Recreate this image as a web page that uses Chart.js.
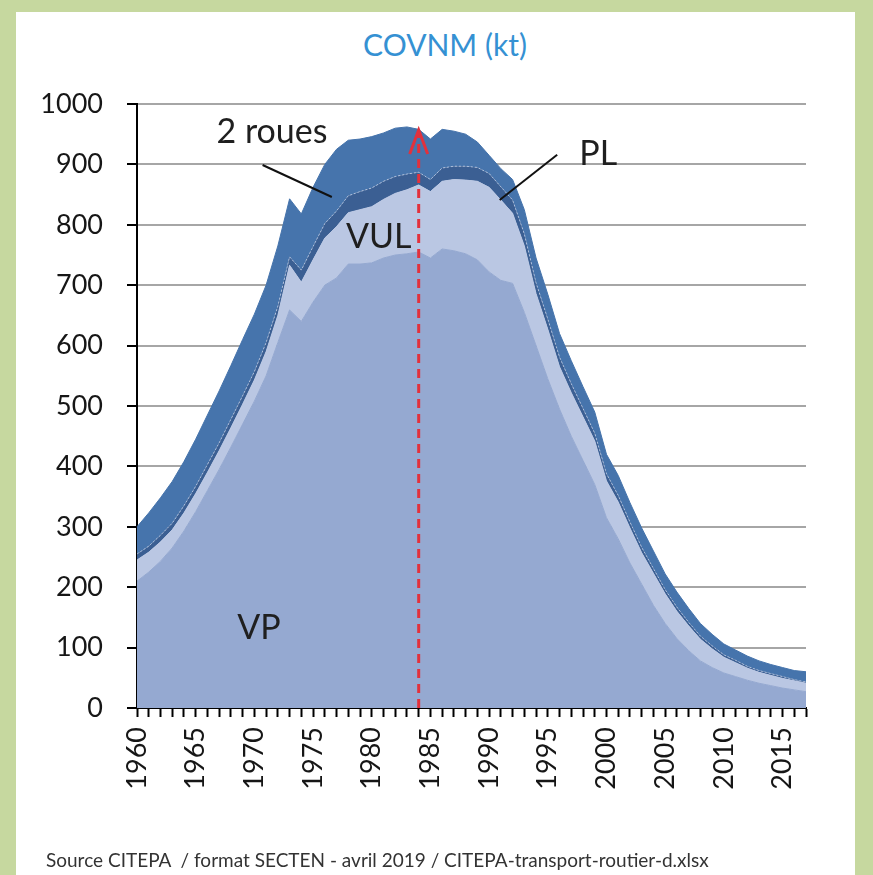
<!DOCTYPE html>
<html lang="fr">
<head>
<meta charset="UTF-8">
<title>COVNM (kt)</title>
<script src="https://cdn.jsdelivr.net/npm/chart.js"></script>
<style>
  html, body { margin: 0; padding: 0; }
  body { width: 873px; height: 875px; background: #c6d89f; position: relative; overflow: hidden; }
  #panel { position: absolute; left: 16px; top: 12px; width: 839px; height: 863px; background: #fff; }
  #chart { position: absolute; left: 0; top: 0; }
  #title { position: absolute; left: 345px; width: 200px; top: 26px; text-align: center; font-family: Lato, sans-serif; font-size: 30px; color: #3591d3; }
  #source { position: absolute; left: 46px; top: 848px; font-family: Lato, sans-serif; font-size: 19px; color: #333; white-space: nowrap; }
</style>
</head>
<body>
<div id="panel"></div>
<div id="title">COVNM (kt)</div>
<canvas id="chart" width="873" height="875"></canvas>
<div id="source">Source CITEPA&nbsp; / format SECTEN - avril 2019 / CITEPA-transport-routier-d.xlsx</div>

<script>
// years on the x axis
const years = [1960, 1961, 1962, 1963, 1964, 1965, 1966, 1967, 1968, 1969,
               1970, 1971, 1972, 1973, 1974, 1975, 1976, 1977, 1978, 1979,
               1980, 1981, 1982, 1983, 1984, 1985, 1986, 1987, 1988, 1989,
               1990, 1991, 1992, 1993, 1994, 1995, 1996, 1997, 1998, 1999,
               2000, 2001, 2002, 2003, 2004, 2005, 2006, 2007, 2008, 2009,
               2010, 2011, 2012, 2013, 2014, 2015, 2016, 2017];
const xTickLabels = ['1960', '1965', '1970', '1975', '1980', '1985', '1990', '1995', '2000', '2005', '2010', '2015'];

// kt per category (stacked, bottom to top)
const vp = [210, 225, 243, 265, 293, 325, 360, 395, 432, 470,
            508, 550, 605, 659, 640, 672, 700, 712, 735, 735,
            737, 745, 750, 752, 755, 745, 760, 757, 752, 742,
            722, 708, 703, 655, 600, 545, 495, 450, 410, 370,
            315, 280, 240, 205, 170, 140, 115, 95, 78, 67,
            58, 52, 46, 41, 37, 33, 30, 27];
const vul = [35, 33, 32, 30, 30, 30, 30, 31, 32, 33,
             35, 40, 45, 74, 65, 70, 78, 85, 85, 90,
             93, 97, 102, 106, 111, 110, 112, 118, 122, 130,
             140, 133, 116, 110, 86, 82, 70, 72, 72, 72,
             61, 61, 58, 52, 53, 49, 45, 41, 36, 31,
             26, 23, 20, 18, 17, 16, 15, 14];
const pl = [10, 10, 11, 11, 12, 12, 13, 13, 14, 14,
            14, 15, 15, 14, 20, 22, 24, 26, 28, 30,
            31, 30, 28, 26, 21, 20, 22, 22, 23, 23,
            23, 22, 22, 20, 18, 17, 16, 15, 14, 13,
            12, 11, 10, 9, 8, 7, 7, 6, 5, 5,
            4, 4, 3, 3, 3, 3, 2, 2];
const deuxRoues = [45, 55, 62, 69, 73, 78, 82, 86, 89, 93,
                   95, 95, 100, 96, 93, 98, 98, 102, 92, 87,
                   85, 80, 80, 78, 71, 67, 64, 58, 53, 42,
                   30, 30, 34, 40, 41, 41, 39, 38, 36, 35,
                   32, 33, 32, 32, 29, 26, 25, 23, 21, 19,
                   18, 17, 17, 16, 15, 15, 15, 17];

const seriesNames = ['VP', 'VUL', 'PL', '2 roues'];
const seriesColors = ['#95a9d1', '#bac7e3', '#3b5f93', '#4674ac'];

// annotation text placed in data units (year, kt)
const noteTexts = [
  { text: '2 roues', year: 1971.5, kt: 953 },
  { text: 'VUL', year: 1980.6, kt: 780 },
  { text: 'PL', year: 1999.3, kt: 917 },
  { text: 'VP', year: 1970.4, kt: 132 }
];
const noteLeaders = [
  { from: [1970.7, 899], to: [1976.6, 846] },
  { from: [1995.8, 916], to: [1990.9, 841] }
];
const markerYear = 1984;
const markerTop = 957;

const tickFont = { family: 'Lato, sans-serif', size: 27 };

const annotationPlugin = {
  id: 'annotations',
  afterDatasetsDraw(chart) {
    const { ctx, scales: { x, y } } = chart;
    const px = yr => x.getPixelForValue(yr - years[0]);
    ctx.save();
    // red dashed marker with open arrow head
    const mx = px(markerYear);
    const top = y.getPixelForValue(markerTop);
    ctx.strokeStyle = '#e2313c';
    ctx.lineWidth = 3;
    ctx.setLineDash([9, 6]);
    ctx.beginPath();
    ctx.moveTo(mx, y.getPixelForValue(0));
    ctx.lineTo(mx, top + 2);
    ctx.stroke();
    ctx.setLineDash([]);
    ctx.beginPath();
    ctx.moveTo(mx - 9, top + 24);
    ctx.lineTo(mx, top);
    ctx.lineTo(mx + 9, top + 24);
    ctx.stroke();
    // leader lines
    ctx.strokeStyle = '#111';
    ctx.lineWidth = 2;
    noteLeaders.forEach(l => {
      ctx.beginPath();
      ctx.moveTo(px(l.from[0]), y.getPixelForValue(l.from[1]));
      ctx.lineTo(px(l.to[0]), y.getPixelForValue(l.to[1]));
      ctx.stroke();
    });
    // labels
    ctx.fillStyle = '#1f1f1f';
    ctx.font = '34px Lato, sans-serif';
    ctx.textAlign = 'center';
    ctx.textBaseline = 'middle';
    noteTexts.forEach(n => ctx.fillText(n.text, px(n.year), y.getPixelForValue(n.kt)));
    ctx.restore();
  }
};

const ctx = document.getElementById('chart').getContext('2d');
new Chart(ctx, {
  type: 'line',
  data: {
    labels: years,
    datasets: [vp, vul, pl, deuxRoues].map((d, i) => ({
      label: seriesNames[i],
      data: d,
      backgroundColor: seriesColors[i],
      borderColor: i === 2 ? 'rgba(205,215,238,0.7)' : seriesColors[i],
      borderWidth: 1,
      borderDash: i === 2 ? [2, 2] : [],
      pointRadius: 0,
      tension: 0,
      fill: i === 0 ? 'origin' : '-1'
    }))
  },
  options: {
    responsive: false,
    animation: false,
    events: [],
    layout: { padding: { left: 20, right: 67, top: 104, bottom: 77 } },
    plugins: {
      legend: { display: false },
      tooltip: { enabled: false }
    },
    scales: {
      x: {
        type: 'category',
        offset: false,
        afterFit: s => { s.height = 90; },
        border: { color: '#000', width: 2 },
        grid: { drawOnChartArea: false, drawTicks: true, tickLength: 9, tickColor: '#000', tickWidth: 2 },
        ticks: {
          autoSkip: false,
          minRotation: 90,
          maxRotation: 90,
          padding: 10,
          color: '#161616',
          font: tickFont,
          callback: function (val) {
            const lab = String(this.getLabelForValue(val));
            return xTickLabels.includes(lab) ? lab : '';
          }
        }
      },
      y: {
        stacked: true,
        min: 0,
        max: 1000,
        afterFit: s => { s.width = 117; },
        border: { color: '#000', width: 2 },
        grid: { color: '#a6a6a6', lineWidth: 2, tickLength: 10, tickColor: '#000', tickWidth: 2 },
        ticks: { stepSize: 100, padding: 24, color: '#161616', font: tickFont, callback: v => String(v) }
      }
    }
  },
  plugins: [annotationPlugin]
});
</script>
</body>
</html>
